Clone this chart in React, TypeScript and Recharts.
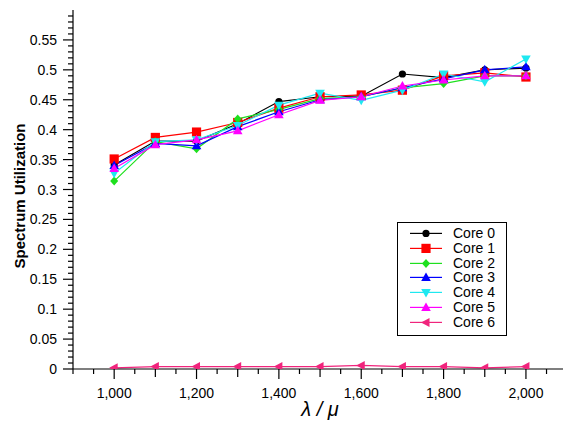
import React from "react";
import { LineChart, Line, XAxis, YAxis, Legend, Label } from "recharts";

const loads = [1000, 1100, 1200, 1300, 1400, 1500, 1600, 1700, 1800, 1900, 2000];

const core0 = [0.341, 0.381, 0.381, 0.41, 0.447, 0.455, 0.456, 0.493, 0.487, 0.5, 0.503];
const core1 = [0.351, 0.387, 0.396, 0.412, 0.436, 0.455, 0.458, 0.466, 0.49, 0.495, 0.488];
const core2 = [0.314, 0.38, 0.368, 0.418, 0.434, 0.452, 0.455, 0.47, 0.477, 0.49, 0.49];
const core3 = [0.34, 0.377, 0.373, 0.405, 0.43, 0.45, 0.455, 0.47, 0.485, 0.5, 0.505];
const core4 = [0.327, 0.38, 0.383, 0.407, 0.441, 0.461, 0.449, 0.466, 0.493, 0.48, 0.518];
const core5 = [0.335, 0.375, 0.383, 0.398, 0.425, 0.449, 0.455, 0.473, 0.483, 0.49, 0.49];
const core6 = [0.002, 0.004, 0.004, 0.004, 0.004, 0.004, 0.006, 0.004, 0.004, 0.002, 0.004];

const seriesNames = ["Core 0", "Core 1", "Core 2", "Core 3", "Core 4", "Core 5", "Core 6"];
const seriesValues = [core0, core1, core2, core3, core4, core5, core6];

const xTicks = [900, 950, 1000, 1050, 1100, 1150, 1200, 1250, 1300, 1350, 1400, 1450, 1500,
  1550, 1600, 1650, 1700, 1750, 1800, 1850, 1900, 1950, 2000, 2050];
const xLabelTicks = [1000, 1200, 1400, 1600, 1800, 2000];
const yLabelTicks = [0, 0.05, 0.1, 0.15, 0.2, 0.25, 0.3, 0.35, 0.4, 0.45, 0.5, 0.55];
const yTicks = Array.from({ length: 60 }, (_, i) => i / 100);

const colors = ["#000000", "#ff0000", "#1ee01e", "#0000ff", "#1ee8f0", "#ff00ff", "#f0247c"];
const markers = ["circle", "square", "diamond", "up", "down", "up", "left"];

const data = loads.map((load, i) => {
  const row: Record<string, number> = { load };
  seriesNames.forEach((name, s) => {
    row[name] = seriesValues[s][i];
  });
  return row;
});

const FONT = '"Liberation Sans", Arial, Helvetica, sans-serif';

const Marker = ({ cx, cy, kind, color }: { cx: number; cy: number; kind: string; color: string }) => {
  if (cx == null || cy == null) return null;
  switch (kind) {
    case "circle":
      return <circle cx={cx} cy={cy} r={3.6} fill={color} />;
    case "square":
      return <rect x={cx - 4.6} y={cy - 4.6} width={9.2} height={9.2} fill={color} />;
    case "diamond":
      return <polygon points={`${cx},${cy - 4.5} ${cx + 4},${cy} ${cx},${cy + 4.5} ${cx - 4},${cy}`} fill={color} />;
    case "up":
      return <polygon points={`${cx},${cy - 5} ${cx + 4.8},${cy + 3.5} ${cx - 4.8},${cy + 3.5}`} fill={color} />;
    case "down":
      return <polygon points={`${cx},${cy + 5} ${cx + 4.8},${cy - 3.5} ${cx - 4.8},${cy - 3.5}`} fill={color} />;
    case "left":
      return <polygon points={`${cx - 5},${cy} ${cx + 3.5},${cy - 4.5} ${cx + 3.5},${cy + 4.5}`} fill={color} />;
    default:
      return null;
  }
};

const XTick = (props: any) => {
  const { x, y, payload } = props;
  const v = payload.value;
  const labelled = xLabelTicks.includes(v);
  const len = labelled ? 10 : v % 100 === 0 && v !== 900 ? 8 : 5;
  return (
    <g>
      <line x1={x} y1={y} x2={x} y2={y + len} stroke="#000" strokeWidth={1.2} />
      {labelled && (
        <text x={x} y={y + 29} textAnchor="middle" fontSize={14} fontFamily={FONT} fill="#000">
          {v.toLocaleString("en-US")}
        </text>
      )}
    </g>
  );
};

const YTick = (props: any) => {
  const { x, y, payload } = props;
  const v = payload.value;
  const labelled = yLabelTicks.some((t) => Math.abs(t - v) < 1e-6);
  const len = labelled ? 10 : 5;
  return (
    <g>
      <line x1={x} y1={y} x2={x - len} y2={y} stroke="#000" strokeWidth={1.2} />
      {labelled && (
        <text x={x - 16} y={y + 5} textAnchor="end" fontSize={14} fontFamily={FONT} fill="#000">
          {String(Number(v.toFixed(2)))}
        </text>
      )}
    </g>
  );
};

const LegendBox = () => (
  <div
    style={{
      border: "1px solid #000",
      boxSizing: "border-box",
      background: "#fff",
      width: 110,
      height: 114,
      paddingTop: 3,
      fontFamily: FONT,
      fontSize: 14,
    }}
  >
    {seriesNames.map((name, s) => (
      <div key={name} style={{ display: "flex", alignItems: "center", height: 14.8 }}>
        <svg width={55} height={14.8} style={{ display: "block" }}>
          <line x1={12} y1={7.4} x2={44} y2={7.4} stroke={colors[s]} strokeWidth={1.2} />
          <Marker cx={28} cy={7.4} kind={markers[s]} color={colors[s]} />
        </svg>
        <span style={{ lineHeight: "14.8px", color: "#000" }}>{name}</span>
      </div>
    ))}
  </div>
);

export default function App() {
  return (
    <div style={{ position: "absolute", left: 0, top: 0, background: "#fff" }}>
      <LineChart width={564} height={423} data={data} margin={{ top: 10, right: 1, bottom: 0, left: 0 }}>
        <XAxis
          dataKey="load"
          type="number"
          domain={[900, 2090]}
          ticks={xTicks}
          interval={0}
          tickSize={0}
          tickMargin={0}
          tickLine={false}
          tick={<XTick />}
          axisLine={{ stroke: "#000", strokeWidth: 1.2 }}
          height={54}
          allowDataOverflow
        >
          <Label
            content={() => (
              <text x={320} y={416} textAnchor="middle" fontSize={20} fontStyle="italic" fontFamily={FONT} fill="#000">
                λ / μ
              </text>
            )}
          />
        </XAxis>
        <YAxis
          type="number"
          domain={[0, 0.6]}
          ticks={yTicks}
          interval={0}
          tickSize={0}
          tickMargin={0}
          tickLine={false}
          tick={<YTick />}
          axisLine={{ stroke: "#000", strokeWidth: 1.2 }}
          width={73}
          allowDataOverflow
        >
          <Label
            content={() => (
              <text
                transform="translate(24.5,196) rotate(-90)"
                textAnchor="middle"
                fontSize={15}
                fontWeight="bold"
                fontFamily={FONT}
                fill="#000"
              >
                Spectrum Utilization
              </text>
            )}
          />
        </YAxis>
        <Legend
          layout="vertical"
          align="center"
          verticalAlign="middle"
          content={() => <LegendBox />}
          wrapperStyle={{ left: 397, top: 222, width: 110, height: 114 }}
        />
        {seriesNames.map((name, s) => (
          <Line
            key={name}
            dataKey={name}
            stroke={colors[s]}
            strokeWidth={1.2}
            isAnimationActive={false}
            dot={(p: any) => <Marker key={`${name}-${p.index}`} cx={p.cx} cy={p.cy} kind={markers[s]} color={colors[s]} />}
            activeDot={false}
          />
        ))}
      </LineChart>
    </div>
  );
}
